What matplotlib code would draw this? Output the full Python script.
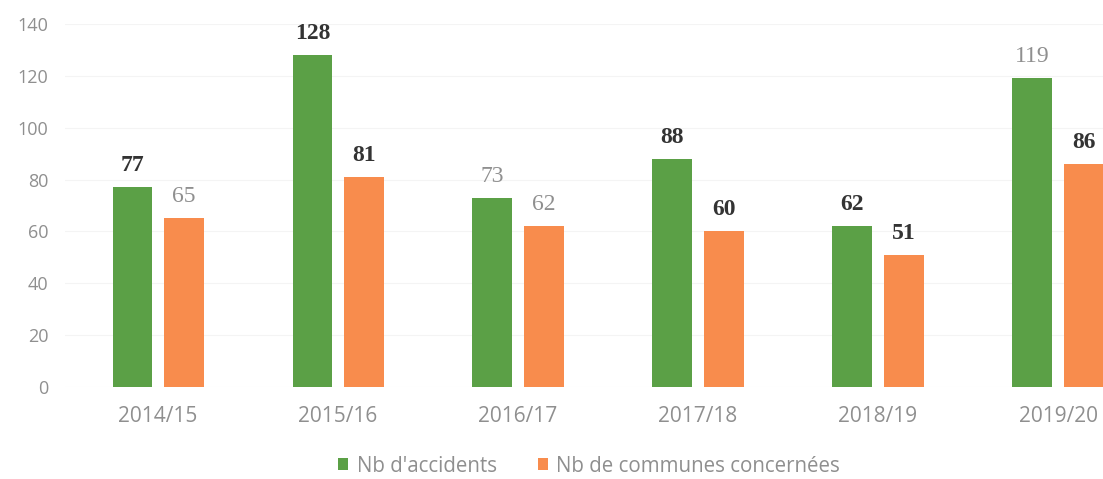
import matplotlib
matplotlib.use("Agg")
import matplotlib.pyplot as plt
import numpy as np

categories = ["2014/15", "2015/16", "2016/17", "2017/18", "2018/19", "2019/20"]
accidents = [77, 128, 73, 88, 62, 119]
communes = [65, 81, 62, 60, 51, 86]
series_names = ["Nb d'accidents", "Nb de communes concernées"]
# which value labels are drawn bold/dark (True) vs light grey (False)
acc_bold = [True, True, False, True, True, False]
com_bold = [False, True, False, True, True, True]

green = "#5BA046"
orange = "#F88C4D"
grey = "#8f8f8f"

fig = plt.figure(figsize=(11.03, 4.79), dpi=100)
ax = fig.add_axes([65/1103, 92/479, (1103-65)/1103, (387-24)/479])

x = np.arange(len(categories))
w = 0.222
off = 0.142
b1 = ax.bar(x - off, accidents, w, color=green, label=series_names[0])
b2 = ax.bar(x + off, communes, w, color=orange, label=series_names[1])

for bars, vals, bolds in ((b1, accidents, acc_bold), (b2, communes, com_bold)):
    for r, v, b in zip(bars, vals, bolds):
        ax.annotate(str(v), (r.get_x() + r.get_width()/2, v),
                    xytext=(0, 8), textcoords="offset points",
                    ha="center", va="bottom",
                    fontsize=17,
                    fontweight="bold" if b else "normal",
                    family="Liberation Serif",
                    color="#333333" if b else grey)

ax.set_xlim(-0.517, 5.25)
ax.set_ylim(0, 140)
ax.set_yticks(range(0, 141, 20))
ax.set_xticks(x)
ax.set_xticklabels(categories)
for s in ax.spines.values():
    s.set_visible(False)
ax.tick_params(axis="both", length=0, colors=grey)
ax.tick_params(axis="y", pad=12, labelsize=13)
ax.tick_params(axis="x", pad=14, labelsize=15)
for t in ax.get_xticklabels() + ax.get_yticklabels():
    t.set_family("Open Sans")
ax.yaxis.grid(True, color="#f4f4f4", linewidth=0.8)
ax.set_axisbelow(True)

leg = fig.legend(handles=[b1, b2], loc="center", bbox_to_anchor=(589/1103, 1 - 466/479),
                 ncol=2, frameon=False, handlelength=0.5, handleheight=0.5,
                 columnspacing=2.0, handletextpad=0.4,
                 prop={"family": "Open Sans", "size": 14.8})
for t in leg.get_texts():
    t.set_color(grey)

fig.savefig("out.png", dpi=100)
